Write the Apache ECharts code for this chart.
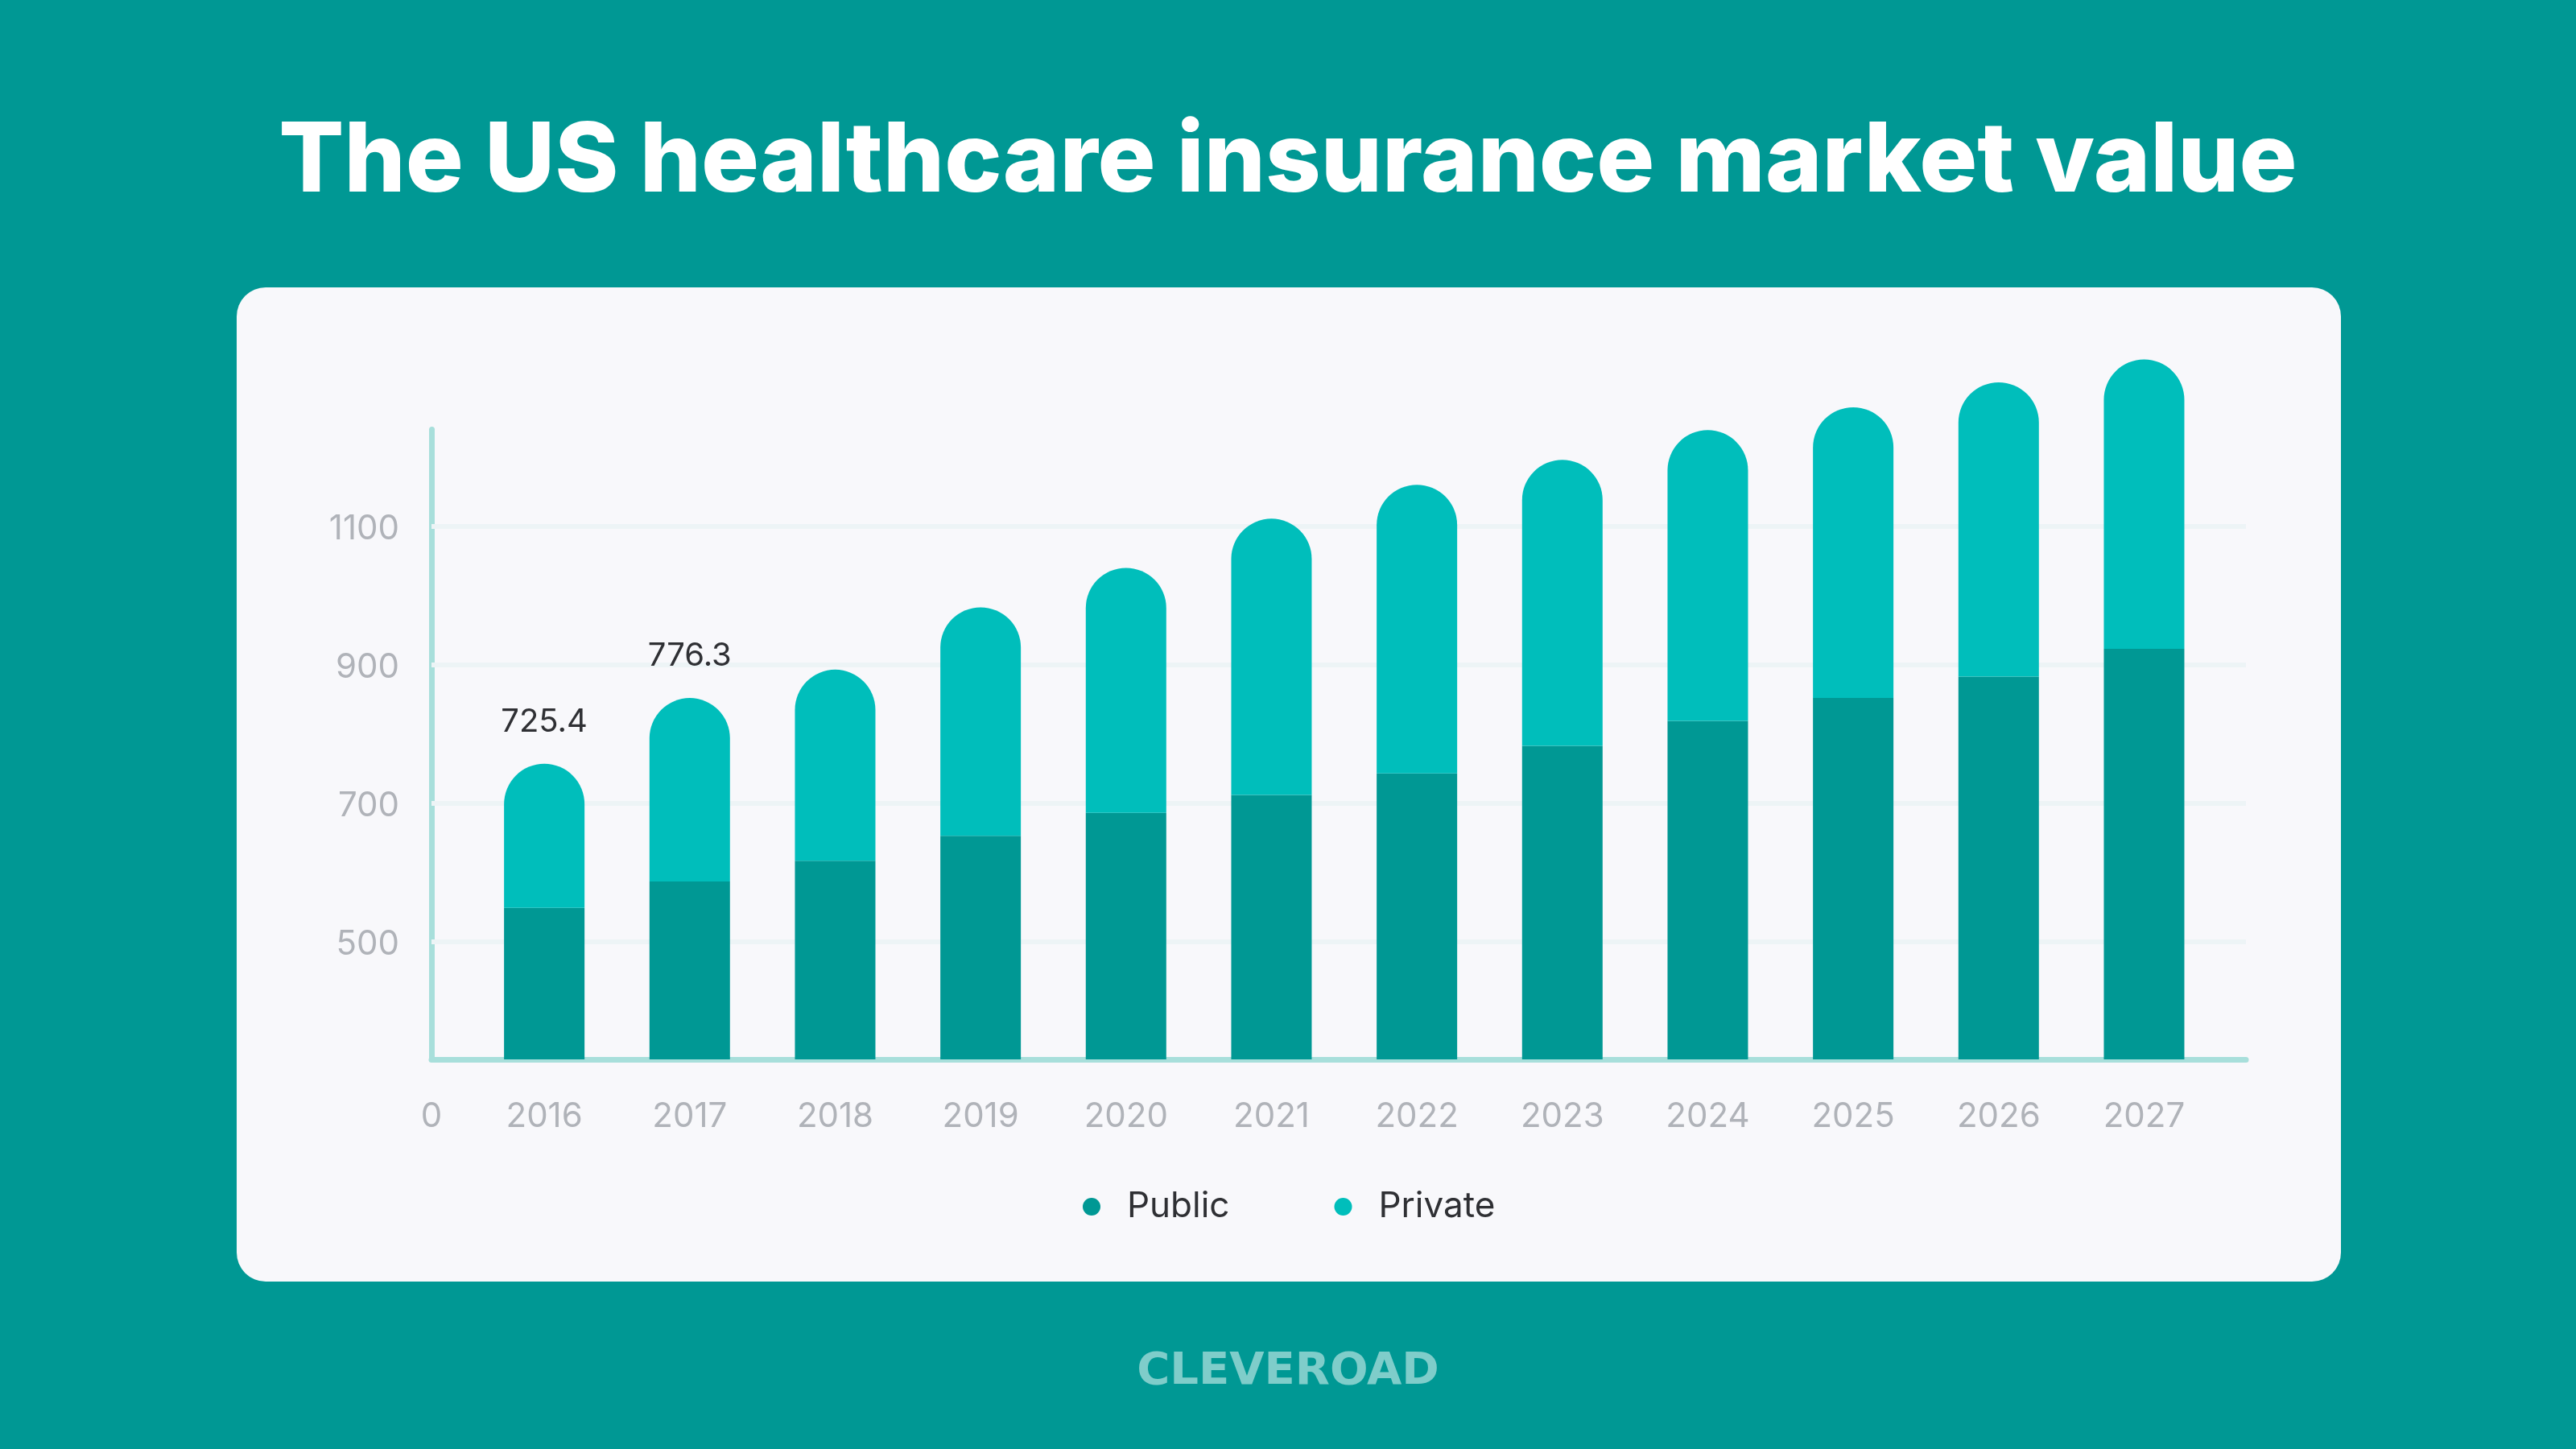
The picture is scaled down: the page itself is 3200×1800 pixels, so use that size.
<!DOCTYPE html>
<html>
<head>
<meta charset="utf-8">
<style>html,body{margin:0;padding:0;background:#009894}#c{width:3200px;height:1800px}</style>
<script src="https://cdn.jsdelivr.net/npm/echarts@6/dist/echarts.min.js"></script>
</head>
<body>
<div id="c"></div>
<script>
const titleText = 'The US healthcare insurance market value';
const brandText = 'CLEVEROAD';
const categories = ['2016','2017','2018','2019','2020','2021','2022','2023','2024','2025','2026','2027'];
const publicValues = [549,587,617,653,686,712,743,783,819,852,883,923];
const privateValues = [208,265,276,330,354,399,417,413,420,420,425,418];
const barLabels = ['725.4','776.3','','','','','','','','','',''];
const gridValues = [500,700,900,1100];
const originLabel = '0';
const font = 'Inter';
const chart = echarts.init(document.getElementById('c'));
chart.setOption({
  animation:false,
  backgroundColor:'#009894',
  title:[
    {text:titleText,left:'center',top:137,textStyle:{color:'#fff',fontFamily:font,fontWeight:800,fontSize:120}},
    {text:brandText,left:'center',top:1671,textStyle:{color:'#7fcdca',fontFamily:'DejaVu Sans',fontWeight:700,fontSize:56}}
  ],
  graphic:[{type:'rect',z:-10,shape:{x:294,y:357,width:2614,height:1235,r:36},style:{fill:'#f8f8fb'}}],
  legend:{
    data:['Public','Private'],left:1340,top:1472,icon:'circle',itemWidth:78,itemHeight:22,itemGap:130,
    textStyle:{color:'#2f3034',fontFamily:font,fontSize:44}
  },
  grid:[
    {left:585.8,right:446.2,top:438.8,bottom:484},
    {left:536,right:410,top:533.4,bottom:484}
  ],
  xAxis:[
    {type:'category',gridIndex:0,data:categories,axisLine:{show:false},axisTick:{show:false},
     axisLabel:{color:'#b0b3b9',fontFamily:font,fontSize:42,margin:50,interval:0}},
    {type:'value',gridIndex:1,min:0,max:1,interval:1,splitLine:{show:false},axisTick:{show:false},
     axisLine:{show:true,onZero:false,lineStyle:{color:'#a8dfdb',width:7}},
     axisLabel:{color:'#b0b3b9',fontFamily:font,fontSize:42,margin:50,formatter:v=>v===0?originLabel:''}}
  ],
  yAxis:[
    {type:'value',gridIndex:0,min:330,max:1350,show:false,splitLine:{show:false}},
    {type:'value',gridIndex:1,min:330,max:1240,splitLine:{show:false},axisTick:{show:false},
     axisLine:{show:true,onZero:false,lineStyle:{color:'#a8dfdb',width:7}},
     axisLabel:{color:'#b0b3b9',fontFamily:font,fontSize:42,margin:40,verticalAlign:'top',lineHeight:8,customValues:gridValues,formatter:v=>String(v)}}
  ],
  series:[
    {type:'line',name:'grid',xAxisIndex:1,yAxisIndex:1,data:[],z:1,silent:true,
     markLine:{silent:true,z:1,symbol:'none',label:{show:false},lineStyle:{color:'#edf4f6',width:6,type:'solid'},
       data:gridValues.map(v=>({yAxis:v}))}},
    {type:'bar',name:'Public',xAxisIndex:0,yAxisIndex:0,stack:'t',barWidth:100,z:3,data:publicValues,itemStyle:{color:'#009894'}},
    {type:'bar',name:'Private',xAxisIndex:0,yAxisIndex:0,stack:'t',barWidth:100,z:3,data:privateValues,
     itemStyle:{color:'#00bebb',borderRadius:[50,50,0,0]},
     label:{show:true,position:'top',distance:32,color:'#2f3034',fontFamily:font,fontSize:40,formatter:p=>barLabels[p.dataIndex]}}
  ]
});
</script>
</body>
</html>
